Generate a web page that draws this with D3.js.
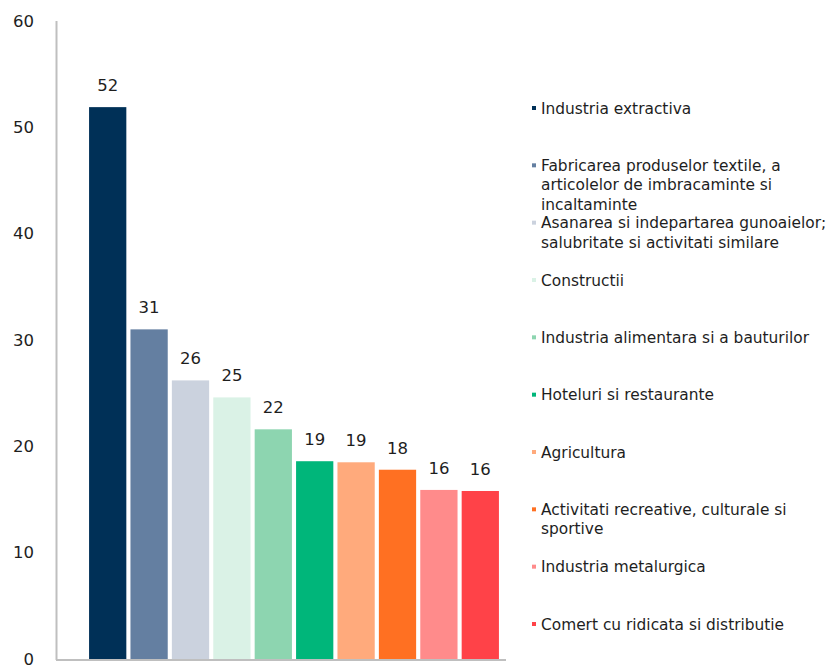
<!DOCTYPE html>
<html>
<head>
<meta charset="utf-8">
<script src="https://cdn.jsdelivr.net/npm/d3@7"></script>
<style>
  html, body { margin: 0; padding: 0; background: #fff; }
  svg text { font-family: "DejaVu Sans", "Open Sans", sans-serif; fill: #1e1e1e; }
</style>
</head>
<body>
<svg id="chart" width="829" height="666"></svg>
<script>
// Sectors, ranked by value
const categories = [
  "Industria extractiva",
  "Fabricarea produselor textile, a\narticolelor de imbracaminte si\nincaltaminte",
  "Asanarea si indepartarea gunoaielor;\nsalubritate si activitati similare",
  "Constructii",
  "Industria alimentara si a bauturilor",
  "Hoteluri si restaurante",
  "Agricultura",
  "Activitati recreative, culturale si\nsportive",
  "Industria metalurgica",
  "Comert cu ridicata si distributie"
];
const values = [51.9, 31.0, 26.2, 24.6, 21.6, 18.6, 18.5, 17.8, 15.9, 15.8];
const colors = ["#003057", "#647fa1", "#cbd2de", "#daf2e6", "#8dd5b0",
                "#00b67a", "#ffaa7c", "#ff7022", "#ff8b8b", "#ff4248"];
const yTicks = [0, 10, 20, 30, 40, 50, 60];

const svg = d3.select("#chart");
const font = "'DejaVu Sans', 'Open Sans', sans-serif";

const x = d3.scaleBand()
  .domain(d3.range(categories.length))
  .range([87, 501])
  .paddingInner(0.1)
  .paddingOuter(0.05);

const y = d3.scaleLinear().domain([0, 60]).range([659, 21]);

// Axes: plain grey lines, labels only
const axisColor = "#bfbfbf";
svg.append("line")
  .attr("x1", 56.5).attr("x2", 56.5)
  .attr("y1", y(60)).attr("y2", y(0) + 1)
  .attr("stroke", axisColor).attr("stroke-width", 2);
svg.append("line")
  .attr("x1", 56).attr("x2", 506)
  .attr("y1", y(0) + 1).attr("y2", y(0) + 1)
  .attr("stroke", axisColor).attr("stroke-width", 2);

const yAxis = svg.append("g")
  .attr("transform", "translate(56,0)")
  .call(d3.axisLeft(y).tickValues(yTicks).tickSize(0).tickPadding(22));
yAxis.select(".domain").remove();
yAxis.selectAll("text")
  .style("font-family", font)
  .style("font-size", "16.5px")
  .attr("fill", "#1e1e1e");

// Bars
svg.append("g").selectAll("rect")
  .data(values)
  .join("rect")
  .attr("x", (d, i) => x(i))
  .attr("y", d => y(d))
  .attr("width", x.bandwidth())
  .attr("height", d => y(0) - y(d))
  .attr("fill", (d, i) => colors[i]);

// Value labels
const fmt = d3.format(".0f");
svg.append("g").selectAll("text")
  .data(values)
  .join("text")
  .attr("x", (d, i) => x(i) + x.bandwidth() / 2)
  .attr("y", d => y(d) - 16)
  .attr("text-anchor", "middle")
  .style("font-size", "16.5px")
  .text(d => fmt(d));

// Legend
const legendY = d3.scalePoint()
  .domain(d3.range(categories.length))
  .range([108, 624]);

const legend = svg.append("g").selectAll("g")
  .data(categories)
  .join("g")
  .attr("transform", (d, i) => `translate(532,${legendY(i)})`);

legend.append("rect")
  .attr("x", 0).attr("y", -2)
  .attr("width", 4).attr("height", 4)
  .attr("fill", (d, i) => colors[i]);

legend.append("text")
  .attr("x", 9)
  .style("font-size", "15.4px")
  .selectAll("tspan")
  .data(d => d.split("\n"))
  .join("tspan")
  .attr("x", 9)
  .attr("dy", (d, i) => i === 0 ? "0.36em" : "19.5px")
  .text(d => d);
</script>
</body>
</html>
